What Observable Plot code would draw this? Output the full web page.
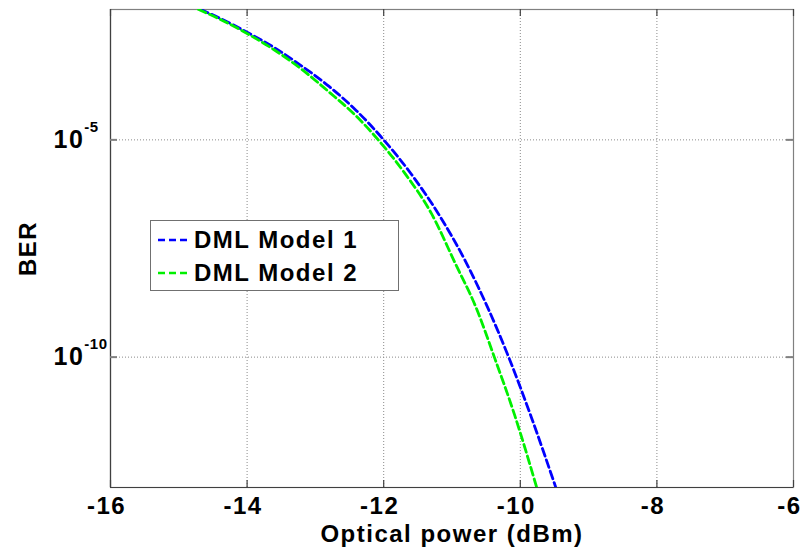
<!DOCTYPE html>
<html>
<head>
<meta charset="utf-8">
<script src="https://cdn.jsdelivr.net/npm/d3@7"></script>
<script src="https://cdn.jsdelivr.net/npm/@observablehq/plot@0.6"></script>
<style>
  html, body { margin: 0; padding: 0; background: #fff; }
  #wrap { position: relative; width: 803px; height: 548px; overflow: hidden; }
  #legend {
    position: absolute; left: 150px; top: 220px; width: 247px; height: 69px;
    border: 1px solid #707070; background: #fff;
    font-family: "Liberation Sans", Arial, sans-serif; font-weight: bold;
    font-size: 24px; letter-spacing: 1.5px; color: #000;
  }
  #legend .row { position: absolute; left: 7px; height: 30px; display: flex; align-items: center; white-space: nowrap; }
  #legend svg { margin-right: 5px; }
</style>
</head>
<body>
<div id="wrap"></div>
<script>
// ---- data ----
const xDomain = [-16, -6];
const yDomain = [1e-13, 1e-2];
const xTicks = [-16, -14, -12, -10, -8, -6];
const yTicks = [1e-5, 1e-10];
const seriesNames = ["DML Model 1", "DML Model 2"];
const seriesColors = ["#0000ff", "#00f000"];

const model1Power = [-14.68, -14.4, -14.0, -13.6, -13.2, -12.8, -12.4, -12.0, -11.6, -11.2, -10.8, -10.5, -10.17, -9.84, -9.48];
const model1BER   = [1.0e-2, 6.3e-3, 3.0e-3, 1.32e-3, 5.0e-4, 1.7e-4, 4.7e-5, 1.0e-5, 1.66e-6, 2.0e-7, 1.58e-8, 1.66e-9, 1.0e-10, 4.2e-12, 1.0e-13];

const model2Power = [-14.71, -14.4, -14.0, -13.6, -13.2, -12.8, -12.4, -12.08, -11.7, -11.3, -10.95, -10.65, -10.38, -10.08, -9.76];
const model2BER   = [1.0e-2, 6.0e-3, 2.8e-3, 1.17e-3, 4.2e-4, 1.26e-4, 3.5e-5, 1.0e-5, 1.78e-6, 2.0e-7, 1.41e-8, 1.41e-9, 1.0e-10, 4.5e-12, 1.0e-13];

const xLabel = "Optical power (dBm)";
const yLabel = "BER";

// ---- build table ----
const rows = [
  ...model1Power.map((p, i) => ({series: seriesNames[0], power: p, ber: model1BER[i]})),
  ...model2Power.map((p, i) => ({series: seriesNames[1], power: p, ber: model2BER[i]}))
];

const W = 803, H = 548, mL = 110, mR = 10, mT = 9, mB = 61;
const innerH = H - mT - mB;
const innerW = W - mL - mR;
const fam = "'Liberation Sans', Arial, sans-serif";

const chart = Plot.plot({
  width: W, height: H,
  marginLeft: mL, marginRight: mR, marginTop: mT, marginBottom: mB,
  style: {background: "#fff", color: "#000", fontFamily: fam, fontWeight: "bold", fontSize: "24px", letterSpacing: "1.5px", overflow: "visible"},
  x: {domain: xDomain, label: null},
  y: {type: "log", domain: yDomain, label: null},
  color: {domain: seriesNames, range: seriesColors},
  marks: [
    // dotted grid
    Plot.ruleX(xTicks.slice(1, -1), {stroke: "#8a8a8a", strokeWidth: 1, strokeDasharray: "1,2"}),
    Plot.ruleY(yTicks, {stroke: "#8a8a8a", strokeWidth: 1, strokeDasharray: "1,2"}),
    // frame
    Plot.frame({stroke: "#808080", strokeWidth: 1.2}),
    Plot.ruleX([xDomain[0]], {stroke: "#404040", strokeWidth: 1.2}),
    Plot.ruleY([yDomain[0]], {stroke: "#404040", strokeWidth: 1.2}),
    // inward ticks
    Plot.ruleX(xTicks, {insetTop: innerH - 7, stroke: "#404040", strokeWidth: 1.2}),
    Plot.ruleX(xTicks, {insetBottom: innerH - 7, stroke: "#404040", strokeWidth: 1.2}),
    Plot.ruleY(yTicks, {insetRight: innerW - 7, stroke: "#808080", strokeWidth: 2}),
    Plot.ruleY(yTicks, {insetLeft: innerW - 7, stroke: "#808080", strokeWidth: 2}),
    // axes labels
    Plot.axisX(xTicks, {anchor: "bottom", tickSize: 0, tickPadding: 9, label: null, fontSize: 24, dx: -4,
      tickFormat: d => String(d)}),
    Plot.axisY(yTicks, {anchor: "left", tickSize: 0, tickPadding: 57, textAnchor: "start", label: null,
      tickFormat: d => "10^" + Math.round(Math.log10(d)), fontSize: 25}),
    Plot.text([xLabel], {frameAnchor: "bottom", text: d => d, dy: 47, fontSize: 24, lineAnchor: "middle", textAnchor: "middle"}),
    Plot.text([yLabel], {frameAnchor: "left", text: d => d, dx: -82, rotate: -90, fontSize: 24, lineAnchor: "middle", textAnchor: "middle"}),
    // curves
    Plot.line(rows, {x: "power", y: "ber", z: "series", stroke: "series", strokeWidth: 2.8,
      strokeDasharray: "8,4", curve: "monotone-x", clip: true})
  ]
});

// superscript exponents on log tick labels
chart.querySelectorAll('g[aria-label="y-axis tick label"] text').forEach(t => {
  const s = t.textContent;
  if (s.startsWith("10^")) {
    const exp = s.slice(3);
    t.textContent = "10";
    const ts = document.createElementNS("http://www.w3.org/2000/svg", "tspan");
    ts.setAttribute("dy", "-16");
    ts.setAttribute("font-size", "15");
    ts.setAttribute("letter-spacing", "0.5");
    ts.textContent = exp;
    t.appendChild(ts);
  }
});

const wrap = document.getElementById("wrap");
wrap.appendChild(chart);

// legend
const legend = document.createElement("div");
legend.id = "legend";
seriesNames.forEach((name, i) => {
  const row = document.createElement("div");
  row.className = "row";
  row.style.top = (i === 0 ? 4 : 37) + "px";
  row.innerHTML = `<svg width="31" height="10"><line x1="0" y1="5" x2="31" y2="5" stroke="${seriesColors[i]}" stroke-width="2.5" stroke-dasharray="7,4"/></svg><span>${name}</span>`;
  legend.appendChild(row);
});
wrap.appendChild(legend);
</script>
</body>
</html>
